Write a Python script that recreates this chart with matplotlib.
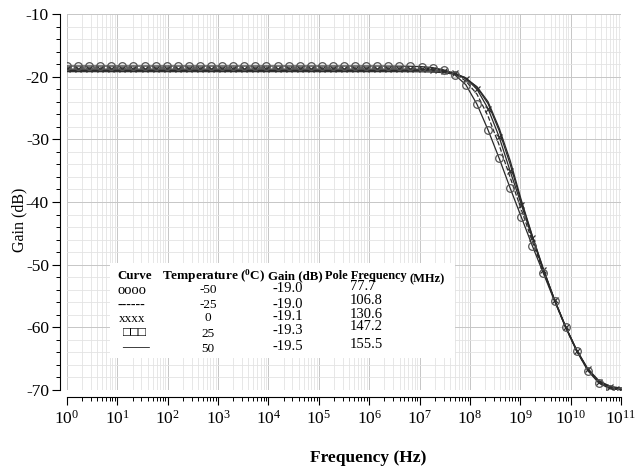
import numpy as np
import matplotlib
matplotlib.use('Agg')
import matplotlib.pyplot as plt
from matplotlib.ticker import MultipleLocator, LogLocator, FuncFormatter, NullFormatter
from matplotlib.patches import Rectangle

plt.rcParams['font.family'] = ['Liberation Serif', 'DejaVu Serif']
plt.rcParams['mathtext.fontset'] = 'custom'
plt.rcParams['mathtext.rm'] = 'Liberation Serif'
plt.rcParams['mathtext.it'] = 'Liberation Serif:italic'
plt.rcParams['mathtext.bf'] = 'Liberation Serif:bold'
plt.rcParams['axes.unicode_minus'] = False

# ---- data (frequency sweep: 51 points, 10^0 .. 10^11 Hz) ----
freq_exp = np.linspace(0, 11, 51)

gain_m50 = [-18.3, -18.3, -18.3, -18.3, -18.3, -18.3, -18.3, -18.3, -18.3, -18.3,
            -18.3, -18.3, -18.3, -18.3, -18.3, -18.3, -18.3, -18.3, -18.3, -18.3,
            -18.3, -18.3, -18.3, -18.3, -18.3, -18.3, -18.3, -18.3, -18.3, -18.31,
            -18.32, -18.34, -18.40, -18.55, -18.92, -19.7, -21.3, -24.4, -28.5, -33.0,
            -37.8, -42.4, -47.0, -51.4, -55.8, -60.0, -63.8, -66.9, -68.9, -69.8,
            -70.1]
gain_m25 = [-18.6, -18.6, -18.6, -18.6, -18.6, -18.6, -18.6, -18.6, -18.6, -18.6,
            -18.6, -18.6, -18.6, -18.6, -18.6, -18.6, -18.6, -18.6, -18.6, -18.6,
            -18.6, -18.6, -18.6, -18.6, -18.6, -18.6, -18.6, -18.6, -18.6, -18.6,
            -18.6, -18.62, -18.65, -18.72, -18.93, -19.46, -20.7, -22.8, -26.3, -30.9,
            -36.1, -41.2, -46.3, -51.1, -55.7, -60.0, -63.75, -66.8, -68.8, -69.7,
            -70.0]
gain_0 = [-18.8, -18.8, -18.8, -18.8, -18.8, -18.8, -18.8, -18.8, -18.8, -18.8,
          -18.8, -18.8, -18.8, -18.8, -18.8, -18.8, -18.8, -18.8, -18.8, -18.8,
          -18.8, -18.8, -18.8, -18.8, -18.8, -18.8, -18.8, -18.8, -18.8, -18.8,
          -18.8, -18.81, -18.83, -18.88, -19.03, -19.4, -20.3, -22.0, -25.1, -29.6,
          -35.1, -40.4, -45.8, -50.9, -55.6, -59.9, -63.7, -66.7, -68.7, -69.6,
          -69.9]
gain_25 = [-19.0, -19.0, -19.0, -19.0, -19.0, -19.0, -19.0, -19.0, -19.0, -19.0,
           -19.0, -19.0, -19.0, -19.0, -19.0, -19.0, -19.0, -19.0, -19.0, -19.0,
           -19.0, -19.0, -19.0, -19.0, -19.0, -19.0, -19.0, -19.0, -19.0, -19.0,
           -19.0, -19.01, -19.02, -19.07, -19.18, -19.48, -20.2, -21.7, -24.3, -28.6,
           -34.0, -40.0, -45.5, -50.8, -55.6, -59.9, -63.65, -66.7, -68.6, -69.5,
           -69.8]
gain_50 = [-19.2, -19.2, -19.2, -19.2, -19.2, -19.2, -19.2, -19.2, -19.2, -19.2,
           -19.2, -19.2, -19.2, -19.2, -19.2, -19.2, -19.2, -19.2, -19.2, -19.2,
           -19.2, -19.2, -19.2, -19.2, -19.2, -19.2, -19.2, -19.2, -19.2, -19.2,
           -19.2, -19.21, -19.22, -19.26, -19.36, -19.63, -20.3, -21.6, -24.0, -28.2,
           -33.4, -39.7, -45.4, -50.7, -55.6, -59.9, -63.6, -66.6, -68.5, -69.4,
           -69.7]

table_symbols = ['oooo', '------', 'xxxx', '\u25a1\u25a1\u25a1', '\u2014\u2014']
table_temps = ['-50', '-25', '0', '25', '50']
table_gains = ['-19.0', '-19.0', '-19.1', '-19.3', '-19.5']
table_poles = ['77.7', '106.8', '130.6', '147.2', '155.5']

# ---- figure ----
W, H = 640, 471
fig = plt.figure(figsize=(6.4, 4.71), dpi=100)
fig.patch.set_facecolor('white')


def fx(x):
    return x / W


def fy(y):
    return 1 - y / H


ax = fig.add_axes([fx(67), fy(390), fx(621) - fx(67), fy(14) - fy(390)])
freq = 10.0 ** freq_exp

lc = '#2a2a2a'
ax.plot(freq, gain_m50, color=lc, lw=0.9, marker='o', ms=5.5, mfc='none',
        mec='#555555', mew=0.9, zorder=4)
ax.plot(freq, gain_m25, color=lc, lw=0.9, ls='--', zorder=3)
ax.plot(freq, gain_0, color=lc, lw=0.9, marker='x', ms=4.5, mec='#333333',
        mew=0.9, zorder=3)
ax.plot(freq, gain_25, color=lc, lw=0.9, zorder=3)
ax.plot(freq, gain_50, color=lc, lw=0.9, zorder=3)

ax.set_xscale('log')
ax.set_xlim(1, 1e11)
ax.set_ylim(-70, -10)

ax.xaxis.set_major_locator(LogLocator(base=10, numticks=15))
ax.xaxis.set_minor_locator(LogLocator(base=10, subs=np.arange(2, 10), numticks=15))
ax.xaxis.set_major_formatter(FuncFormatter(lambda v, p: r'$10^{%d}$' % round(np.log10(v))))
ax.xaxis.set_minor_formatter(NullFormatter())
ax.yaxis.set_major_locator(MultipleLocator(10))
ax.yaxis.set_minor_locator(MultipleLocator(2))

ax.set_axisbelow(True)
ax.grid(which='major', color='#c6c6c6', lw=0.7)
ax.grid(which='minor', color='#e3e3e3', lw=0.6)

for s in ['top', 'right']:
    ax.spines[s].set_visible(False)
ax.spines['left'].set_position(('outward', 5))
ax.spines['bottom'].set_position(('outward', 5))
ax.spines['left'].set_linewidth(0.8)
ax.spines['bottom'].set_linewidth(0.8)
ax.tick_params(which='major', direction='out', length=6, width=0.8, labelsize=12.5, pad=2)
ax.tick_params(which='minor', direction='out', length=3, width=0.7)
ax.tick_params(axis='x', pad=3)

fig.text(fx(19), fy(220), 'Gain (dB)', rotation=90, ha='center', va='center', fontsize=11.5)
fig.text(fx(368), fy(458), 'Frequency (Hz)', ha='center', va='center', fontsize=12.5,
         fontweight='bold')

# ---- table box ----
ax.add_patch(Rectangle((fx(110), fy(358)), fx(455) - fx(110), fy(263) - fy(358),
                       transform=fig.transFigure, facecolor='white', edgecolor='none',
                       zorder=2))

hy = 276
fig.text(fx(117), fy(hy), 'Curve', fontsize=9.3, fontweight='bold', va='center')
fig.text(fx(162), fy(hy), r'Temperature ($^{\mathbf{0}}$C)', fontsize=9.5, fontweight='bold',
         va='center')
fig.text(fx(268), fy(hy), 'Gain (dB)', fontsize=9.3, fontweight='bold', va='center')
fig.text(fx(325), fy(hy), 'Pole Frequency', fontsize=8.8, fontweight='bold', va='center')
fig.text(fx(410), fy(hy + 3), '(MHz)', fontsize=9, fontweight='bold', va='center')

sym_y = [290, 305, 319, 333, 348]
sym_x = [118, 118, 119, 123, 122]
sym_fs = [10.5, 10, 9.5, 9.5, 10]
temp_y = [290, 305, 318, 334, 349]
gain_y = [288, 304, 317, 331, 347]
pole_y = [287, 301, 314, 327, 344]
for i in range(5):
    fig.text(fx(sym_x[i]), fy(sym_y[i]), table_symbols[i], fontsize=sym_fs[i], va='center',
             family=['Liberation Serif', 'DejaVu Serif'])
    fig.text(fx(208), fy(temp_y[i]), table_temps[i], fontsize=9.5, ha='center', va='center')
    fig.text(fx(288), fy(gain_y[i]), table_gains[i], fontsize=10.5, ha='center', va='center')
    fig.text(fx(350), fy(pole_y[i]), table_poles[i], fontsize=10.5, ha='left', va='center')

fig.savefig('out.png', dpi=100, facecolor='white')
